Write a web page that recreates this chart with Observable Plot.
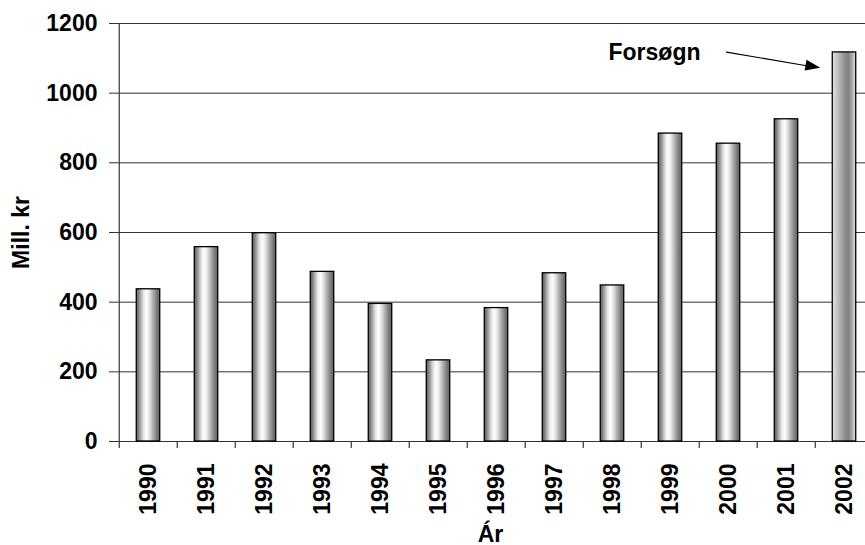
<!DOCTYPE html>
<html>
<head>
<meta charset="utf-8">
<script src="https://cdn.jsdelivr.net/npm/d3@7"></script>
<script src="https://cdn.jsdelivr.net/npm/@observablehq/plot@0.6"></script>
<style>
  html, body { margin: 0; padding: 0; background: #fff; }
  #chart { width: 865px; height: 545px; overflow: hidden; }
  svg { font-family: "Liberation Sans", Arial, sans-serif; }
</style>
</head>
<body>
<div id="chart"></div>
<script>
// ---- data ----
const years = ["1990","1991","1992","1993","1994","1995","1996","1997","1998","1999","2000","2001","2002"];
const values = [437, 558, 598, 487, 395, 233, 383, 483, 448, 884, 855, 925, 1117];
const yTicks = [0, 200, 400, 600, 800, 1000, 1200];
const forecastYears = ["2002"];
const annotationLabel = ["Forsøgn"];
const annotationFrom = ["2000", 1117];
const annotationTo = ["2002", 1060];
const yLabel = "Mill. kr";
const xLabel = "Ár";

const data = years.map((year, i) => ({year, value: values[i]}));
const actual = data.filter(d => !forecastYears.includes(d.year));
const forecast = data.filter(d => forecastYears.includes(d.year));

// ---- layout ----
const W = 865, H = 545;
const mL = 115, mT = 23, mB = 104;
const xEnd = 876; // plot area continues slightly past the right edge (cropped)
const step = (xEnd - mL) / years.length;
const barW = 24;
const inset = (step - barW) / 2;
const FS = 23;
const arrowInsetEnd = 24, headLen = 15, headHalf = 5.5;

function gradients() {
  const ns = "http://www.w3.org/2000/svg";
  const defs = document.createElementNS(ns, "defs");
  defs.innerHTML = `
    <linearGradient id="barGrad" x1="0" x2="1" y1="0" y2="0">
      <stop offset="0" stop-color="#5a5a5a"/>
      <stop offset="0.12" stop-color="#8a8a8a"/>
      <stop offset="0.30" stop-color="#e2e2e2"/>
      <stop offset="0.42" stop-color="#ffffff"/>
      <stop offset="0.55" stop-color="#e6e6e6"/>
      <stop offset="0.75" stop-color="#a2a2a2"/>
      <stop offset="0.90" stop-color="#747474"/>
      <stop offset="1" stop-color="#666666"/>
    </linearGradient>
    <linearGradient id="fcGrad" x1="0" x2="1" y1="0" y2="0">
      <stop offset="0" stop-color="#e6e6e6"/>
      <stop offset="0.2" stop-color="#c4c4c4"/>
      <stop offset="0.5" stop-color="#939393"/>
      <stop offset="0.68" stop-color="#7e7e7e"/>
      <stop offset="0.85" stop-color="#acacac"/>
      <stop offset="1" stop-color="#e4e4e4"/>
    </linearGradient>`;
  return defs;
}

// filled arrowhead placed with the plot's own scales
function arrowHead(index, scales) {
  const ns = "http://www.w3.org/2000/svg";
  const bw = scales.x.bandwidth ? scales.x.bandwidth() / 2 : step / 2;
  const x1 = scales.x(annotationFrom[0]) + bw, y1 = scales.y(annotationFrom[1]);
  const x2 = scales.x(annotationTo[0]) + bw, y2 = scales.y(annotationTo[1]);
  const len = Math.hypot(x2 - x1, y2 - y1);
  const ux = (x2 - x1) / len, uy = (y2 - y1) / len;
  const tx = x2 - ux * arrowInsetEnd, ty = y2 - uy * arrowInsetEnd;
  const bx = tx - ux * headLen, by = ty - uy * headLen;
  const p = document.createElementNS(ns, "polygon");
  p.setAttribute("points", [
    [tx, ty],
    [bx - uy * headHalf, by + ux * headHalf],
    [bx + uy * headHalf, by - ux * headHalf]
  ].map(d => d.join(",")).join(" "));
  p.setAttribute("fill", "#000");
  return p;
}

const plot = Plot.plot({
  width: W,
  height: H,
  marginLeft: mL,
  marginTop: mT,
  marginBottom: mB,
  marginRight: 0,
  style: {fontFamily: '"Liberation Sans", Arial, sans-serif', color: "#000", background: "#fff"},
  x: {domain: years, range: [mL, xEnd], padding: 0, label: null, axis: null},
  y: {domain: [0, 1200], label: null, axis: null},
  marks: [
    gradients,
    Plot.gridY(yTicks, {stroke: "#333", strokeOpacity: 1, strokeWidth: 1}),
    Plot.ruleX([years[0]], {dx: -step / 2, stroke: "#333", strokeWidth: 1.2}),
    Plot.ruleX(years, {y1: 0, y2: 0, insetBottom: -7, dx: -step / 2, stroke: "#333", strokeWidth: 1.2}),
    Plot.ruleY([0], {stroke: "#333", strokeWidth: 1.2}),
    Plot.barY(actual, {x: "year", y: "value", fill: "url(#barGrad)", stroke: "#000", strokeWidth: 1.3, insetLeft: inset, insetRight: inset}),
    Plot.barY(forecast, {x: "year", y: "value", fill: "url(#fcGrad)", stroke: "#000", strokeWidth: 1.3, insetLeft: inset, insetRight: inset}),
    Plot.axisY(yTicks, {tickSize: 6, tickPadding: 12, tickFormat: d3.format("d"), fontSize: FS, fontWeight: "bold", stroke: "#333", label: null}),
    Plot.axisX({tickRotate: -90, tickSize: 0, tickPadding: 22, fontSize: FS, fontWeight: "bold", label: null}),
    Plot.text([yLabel], {frameAnchor: "left", textAnchor: "middle", rotate: -90, dx: -94, fontSize: FS, fontWeight: "bold"}),
    Plot.text([xLabel], {frameAnchor: "bottom", dy: 100, fontSize: FS, fontWeight: "bold"}),
    Plot.text(annotationLabel, {x: () => annotationFrom[0], y: () => annotationFrom[1], textAnchor: "end", dx: -28, fontSize: FS, fontWeight: "bold"}),
    Plot.arrow([0], {
      x1: () => annotationFrom[0], y1: () => annotationFrom[1],
      x2: () => annotationTo[0], y2: () => annotationTo[1],
      insetStart: -2, insetEnd: arrowInsetEnd + headLen - 2, headLength: 0,
      stroke: "#000", strokeWidth: 1.2
    }),
    arrowHead
  ]
});
document.getElementById("chart").appendChild(plot);
</script>
</body>
</html>
